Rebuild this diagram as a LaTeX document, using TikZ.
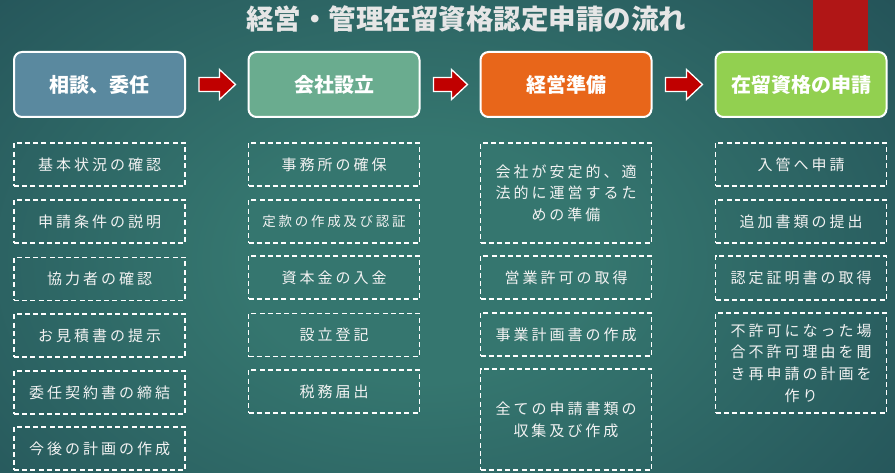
\documentclass[tikz,border=0pt]{standalone}
\usepackage{fontspec}
\usetikzlibrary{calc}
\newfontfamily\jp{Noto Sans CJK JP}
\newfontfamily\jpsp[LetterSpace=20]{Noto Sans CJK JP}
\definecolor{bgin}{HTML}{35766F}
\definecolor{bgout}{HTML}{163646}
\definecolor{redbar}{HTML}{B01616}
\definecolor{arrowred}{HTML}{C00000}
\definecolor{hblue}{HTML}{5A899F}
\definecolor{hgreen}{HTML}{6AAC8F}
\definecolor{horange}{HTML}{E8661A}
\definecolor{hlime}{HTML}{92D050}
\definecolor{txtc}{HTML}{F2F2F2}
\definecolor{titlec}{HTML}{E6E6E6}
\pgfdeclareradialshading{bgshade}{\pgfpoint{0bp}{0bp}}{color(0bp)=(bgin); color(8bp)=(bgin); color(44bp)=(bgout); color(50bp)=(bgout)}
\begin{document}
\begin{tikzpicture}[x=1pt,y=-1pt,
  headbox/.style={draw=white, line width=2pt, rounded corners=8pt, minimum width=171pt, minimum height=65pt, inner sep=0pt, text=white, font=\jp\bfseries\fontsize{20}{24}\selectfont},
  dbox/.style={draw=white, dash pattern=on 5pt off 3.2pt, line width=1.3pt, minimum width=171pt, inner sep=0pt, text=txtc, align=center, font=\jpsp\fontsize{15}{21.7}\selectfont},
  smalltext/.style={font=\jpsp\fontsize{13.5}{21.7}\selectfont},
  blockarrow/.style={fill=arrowred, draw=white, line width=1.3pt, line join=miter,
    to path={($(\tikztostart)+(13,-7)$) -- ($(\tikztotarget)+(-28,-7)$) -- ($(\tikztotarget)+(-28,-15)$) -- ($(\tikztotarget)+(-12,0)$) -- ($(\tikztotarget)+(-28,15)$) -- ($(\tikztotarget)+(-28,7)$) -- ($(\tikztostart)+(13,7)$) -- cycle}}
]
\useasboundingbox (0,0) rectangle (895,473);
\fill[bgout] (0,0) rectangle (895,473);
\begin{scope}
\clip (0,0) rectangle (895,473);
\shade[shading=bgshade] (-140,-120) rectangle (980,640);
\end{scope}
\fill[redbar] (813,0) rectangle (868,52);
\node[text=titlec, font=\jp\bfseries\fontsize{27.5}{30}\selectfont, inner sep=0pt] (title) at (466,19) {経営・管理在留資格認定申請の流れ};
% header boxes
\node[headbox, fill=hblue] (h1) at (99.5,84.5) {相談、委任};
\node[headbox, fill=hgreen] (h2) at (334,84.5) {会社設立};
\node[headbox, fill=horange] (h3) at (566,84.5) {経営準備};
\node[headbox, fill=hlime] (h4) at (801,84.5) {在留資格の申請};
\path[blockarrow] (h1.east) to (h2.west);
\path[blockarrow] (h2.east) to (h3.west);
\path[blockarrow] (h3.east) to (h4.west);
% column 1
\node[dbox, minimum height=43pt] (a1) at (99.5,164.5) {基本状況の確認};
\node[dbox, minimum height=43pt] (a2) at (99.5,221.5) {申請条件の説明};
\node[dbox, minimum height=43pt] (a3) at (99.5,279) {協力者の確認};
\node[dbox, minimum height=43pt] (a4) at (99.5,335.5) {お見積書の提示};
\node[dbox, minimum height=43pt] (a5) at (99.5,392.5) {委任契約書の締結};
\node[dbox, minimum height=43pt] (a6) at (99.5,448.5) {今後の計画の作成};
% column 2
\node[dbox, minimum height=43pt] (b1) at (334,164.5) {事務所の確保};
\node[dbox, smalltext, minimum height=43pt] (b2) at (334,221.5) {定款の作成及び認証};
\node[dbox, minimum height=43pt] (b3) at (334,277.5) {資本金の入金};
\node[dbox, minimum height=43pt] (b4) at (334,335) {設立登記};
\node[dbox, minimum height=43pt] (b5) at (334,391.5) {税務届出};
% column 3
\node[dbox, minimum height=100pt] (c1) at (566,193) {会社が安定的、適\\法的に運営するた\\めの準備};
\node[dbox, minimum height=43pt] (c2) at (566,277.5) {営業許可の取得};
\node[dbox, minimum height=43pt] (c3) at (566,334.5) {事業計画書の作成};
\node[dbox, minimum height=101pt] (c4) at (566,419.5) {全ての申請書類の\\収集及び作成};
% column 4
\node[dbox, minimum height=43pt] (d1) at (801,164.5) {入管へ申請};
\node[dbox, minimum height=43pt] (d2) at (801,221.5) {追加書類の提出};
\node[dbox, minimum height=44pt] (d3) at (801,278) {認定証明書の取得};
\node[dbox, minimum height=100pt] (d4) at (801,363) {不許可になった場\\合不許可理由を聞\\き再申請の計画を\\作り};
\end{tikzpicture}
\end{document}
